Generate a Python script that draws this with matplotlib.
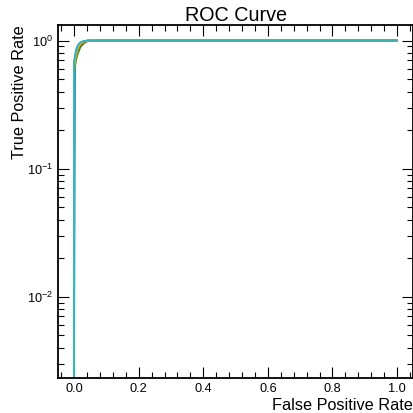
import matplotlib.pyplot as plt
from matplotlib.ticker import AutoMinorLocator

# shared false positive rate grid for all classes
fpr = [0.0, 0.0, 0.003, 0.006, 0.01, 0.015, 0.02, 0.03, 0.04, 0.05, 1.0]

tpr_0 = [0.0, 0.003, 0.70, 0.78, 0.86, 0.91, 0.95, 0.985, 0.998, 1.0, 1.0]
tpr_1 = [0.0, 0.58, 0.66, 0.74, 0.81, 0.87, 0.92, 0.97, 0.995, 1.0, 1.0]
tpr_2 = [0.0, 0.55, 0.62, 0.70, 0.77, 0.83, 0.89, 0.95, 0.985, 1.0, 1.0]
tpr_3 = [0.0, 0.60, 0.67, 0.75, 0.82, 0.88, 0.92, 0.97, 0.995, 1.0, 1.0]
tpr_4 = [0.0, 0.66, 0.74, 0.82, 0.89, 0.93, 0.96, 0.99, 1.0, 1.0, 1.0]
tpr_5 = [0.0, 0.62, 0.69, 0.78, 0.86, 0.91, 0.95, 0.985, 0.998, 1.0, 1.0]
tpr_6 = [0.0, 0.70, 0.78, 0.85, 0.91, 0.95, 0.97, 0.99, 1.0, 1.0, 1.0]
tpr_7 = [0.0, 0.64, 0.72, 0.80, 0.87, 0.92, 0.96, 0.99, 1.0, 1.0, 1.0]
tpr_8 = [0.0, 0.59, 0.67, 0.76, 0.84, 0.90, 0.94, 0.98, 0.996, 1.0, 1.0]
tpr_9 = [0.0, 0.68, 0.76, 0.84, 0.90, 0.94, 0.97, 0.99, 1.0, 1.0, 1.0]

all_tpr = [tpr_0, tpr_1, tpr_2, tpr_3, tpr_4, tpr_5, tpr_6, tpr_7, tpr_8, tpr_9]

plt.rcParams['font.family'] = ['Liberation Sans', 'DejaVu Sans']
plt.rcParams['mathtext.fontset'] = 'custom'
plt.rcParams['mathtext.rm'] = 'Liberation Sans'
plt.rcParams['mathtext.it'] = 'Liberation Sans:italic'

fig = plt.figure(figsize=(4.14, 4.13), dpi=100)
ax = fig.add_axes([0.140, 0.085, 0.858, 0.855])

for tpr in all_tpr:
    ax.plot(fpr, tpr, lw=1.2)

ax.set_yscale('log')
ax.set_xlim(-0.05, 1.05)
ax.set_ylim(0.00232, 1.33)

ax.xaxis.set_minor_locator(AutoMinorLocator(5))
ax.tick_params(which='both', direction='in', top=True, right=True, labelsize=9.2)
ax.tick_params(which='major', length=8, width=0.8)
ax.tick_params(which='minor', length=4, width=0.8)
for s in ax.spines.values():
    s.set_linewidth(1.3)

ax.set_title('ROC Curve', fontsize=14.2, pad=3)
ax.set_xlabel('False Positive Rate', fontsize=11.7, loc='right', labelpad=2)
ax.set_ylabel('True Positive Rate', fontsize=11.7, loc='top', labelpad=0)

fig.savefig('out.png', dpi=100)
